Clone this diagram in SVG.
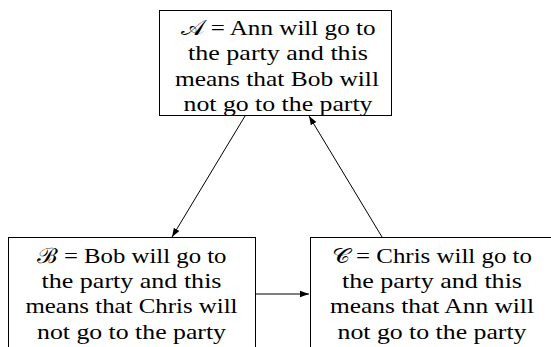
<svg xmlns="http://www.w3.org/2000/svg" width="551" height="347" viewBox="0 0 551 347">
<style>
.box{fill:#fff;stroke:#000;stroke-width:1}
.t{font-family:"Liberation Serif","DejaVu Serif",serif;font-size:21px;fill:#000;text-anchor:middle}
.c{stroke:#000;stroke-width:1;fill:none;marker-end:url(#ah)}
</style>
<defs>
<marker id="ah" markerWidth="10" markerHeight="8" refX="9" refY="4" orient="auto" markerUnits="userSpaceOnUse">
<path d="M0,0.8 L9,4 L0,7.2 Z" fill="#000"/>
</marker>
</defs>
<g id="connectors">
<line class="c" x1="245" y1="116" x2="172" y2="237"/>
<line class="c" x1="382" y1="237" x2="309" y2="116"/>
<line class="c" x1="256" y1="294" x2="309" y2="294"/>
</g>
<g id="nodeA">
<rect class="box" x="159.5" y="10.5" width="232" height="105"/>
<text class="t" x="278" y="35" textLength="195" lengthAdjust="spacingAndGlyphs">𝒜 = Ann will go to</text>
<text class="t" x="278" y="60.3" textLength="180" lengthAdjust="spacingAndGlyphs">the party and this</text>
<text class="t" x="277" y="85.6" textLength="204" lengthAdjust="spacingAndGlyphs">means that Bob will</text>
<text class="t" x="278" y="111" textLength="189" lengthAdjust="spacingAndGlyphs">not go to the party</text>
</g>
<g id="nodeB">
<rect class="box" x="8.5" y="237.5" width="247" height="130"/>
<text class="t" x="131.5" y="262.5" textLength="190" lengthAdjust="spacingAndGlyphs">ℬ = Bob will go to</text>
<text class="t" x="131.5" y="287.8" textLength="180" lengthAdjust="spacingAndGlyphs">the party and this</text>
<text class="t" x="131.5" y="313.1" textLength="212" lengthAdjust="spacingAndGlyphs">means that Chris will</text>
<text class="t" x="131.5" y="338.5" textLength="189" lengthAdjust="spacingAndGlyphs">not go to the party</text>
</g>
<g id="nodeC">
<rect class="box" x="310.5" y="237.5" width="247" height="130"/>
<text class="t" x="432" y="262.5" textLength="200" lengthAdjust="spacingAndGlyphs">𝒞 = Chris will go to</text>
<text class="t" x="432" y="287.8" textLength="180" lengthAdjust="spacingAndGlyphs">the party and this</text>
<text class="t" x="432" y="313.1" textLength="204" lengthAdjust="spacingAndGlyphs">means that Ann will</text>
<text class="t" x="432" y="338.5" textLength="189" lengthAdjust="spacingAndGlyphs">not go to the party</text>
</g>
</svg>
